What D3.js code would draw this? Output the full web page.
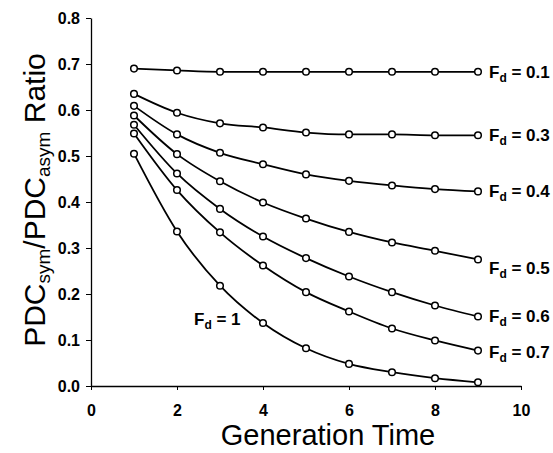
<!DOCTYPE html>
<html>
<head>
<meta charset="utf-8">
<script src="https://cdn.jsdelivr.net/npm/d3@7"></script>
<style>
body { margin: 0; background: #fff; }
svg { font-family: "Liberation Sans", Arial, sans-serif; }
</style>
</head>
<body>
<svg width="553" height="453"></svg>
<script>
const generations = [1, 2, 3, 4, 5, 6, 7, 8, 9];
const seriesNames = ["0.1", "0.3", "0.4", "0.5", "0.6", "0.7", "1"];
const fd01 = [0.690, 0.686, 0.683, 0.683, 0.683, 0.683, 0.683, 0.683, 0.683];
const fd03 = [0.635, 0.594, 0.571, 0.562, 0.551, 0.547, 0.547, 0.545, 0.545];
const fd04 = [0.609, 0.547, 0.507, 0.482, 0.460, 0.446, 0.436, 0.428, 0.423];
const fd05 = [0.588, 0.504, 0.445, 0.399, 0.364, 0.335, 0.312, 0.294, 0.275];
const fd06 = [0.568, 0.462, 0.385, 0.325, 0.278, 0.238, 0.204, 0.175, 0.151];
const fd07 = [0.549, 0.426, 0.334, 0.262, 0.204, 0.162, 0.125, 0.099, 0.077];
const fd1 = [0.505, 0.336, 0.218, 0.137, 0.082, 0.048, 0.030, 0.017, 0.008];
const xTicks = [0, 2, 4, 6, 8, 10];
const yTicks = [0, 0.1, 0.2, 0.3, 0.4, 0.5, 0.6, 0.7, 0.8];

const allSeries = [fd01, fd03, fd04, fd05, fd06, fd07, fd1];

const LEFT = 91, RIGHT = 521, TOP = 18, BOTTOM = 386;

const svg = d3.select("svg");
const xScale = d3.scaleLinear().domain([0, 10]).range([LEFT, RIGHT]);
const yScale = d3.scaleLinear().domain([0, 0.8]).range([BOTTOM, TOP]);

// axes
const xAxis = d3.axisBottom(xScale).tickValues(xTicks).tickSizeInner(4).tickSizeOuter(0).tickPadding(15)
	.tickFormat(d3.format("d"));
const xg = svg.append("g").attr("transform", "translate(0," + BOTTOM + ")").call(xAxis);
const yAxis = d3.axisLeft(yScale).tickValues(yTicks).tickSizeInner(5).tickSizeOuter(0).tickPadding(6)
	.tickFormat(d3.format(".1f"));
const yg = svg.append("g").attr("transform", "translate(" + LEFT + ",0)").call(yAxis);

[xg, yg].forEach(function(g) {
	g.select(".domain").attr("stroke", "#000").attr("stroke-width", 1.3);
	g.selectAll(".tick line").attr("stroke", "#000").attr("stroke-width", 1);
	g.selectAll(".tick text").attr("fill", "#000").style("font-size", "16px").style("font-weight", "bold")
		.style("font-family", "'Liberation Sans', Arial, sans-serif");
});

// lines
const line = d3.line()
	.x(function(d, i) { return xScale(generations[i]); })
	.y(function(d) { return yScale(d); })
	.curve(d3.curveMonotoneX);

const plot = svg.append("g");
allSeries.forEach(function(values) {
	plot.append("path").attr("d", line(values))
		.attr("fill", "none").attr("stroke", "#000").attr("stroke-width", 1.8);
	plot.selectAll(null).data(values).enter().append("circle")
		.attr("cx", function(d, i) { return xScale(generations[i]); })
		.attr("cy", function(d) { return yScale(d); })
		.attr("r", 3.3)
		.attr("fill", "#fff").attr("stroke", "#000").attr("stroke-width", 1.5);
});

// series labels
const labelDy = [6, 6, 6, 14, 5, 7, 0];
allSeries.forEach(function(values, k) {
	let tx, ty;
	if (seriesNames[k] === "1") {
		tx = 194; ty = yScale(values[3]) + 2;
	} else {
		tx = xScale(9) + 11; ty = yScale(values[8]) + labelDy[k];
	}
	const t = svg.append("text").attr("x", tx).attr("y", ty)
		.style("font-size", "17px").style("font-weight", "bold");
	t.append("tspan").text("F");
	t.append("tspan").attr("dy", 4).style("font-size", "12px").text("d");
	t.append("tspan").attr("dy", -4).text(" = " + seriesNames[k]);
});

// axis titles
svg.append("text").attr("x", 328).attr("y", 445)
	.attr("text-anchor", "middle").style("font-size", "29px").text("Generation Time");

const yt = svg.append("text").attr("transform", "translate(45," + 200 + ") rotate(-90)")
	.attr("text-anchor", "middle").style("font-size", "30px");
yt.append("tspan").text("PDC");
yt.append("tspan").attr("dy", 5).style("font-size", "19px").text("sym");
yt.append("tspan").attr("dy", -5).text("/PDC");
yt.append("tspan").attr("dy", 5).style("font-size", "19px").text("asym");
yt.append("tspan").attr("dy", -5).text(" Ratio");
</script>
</body>
</html>
